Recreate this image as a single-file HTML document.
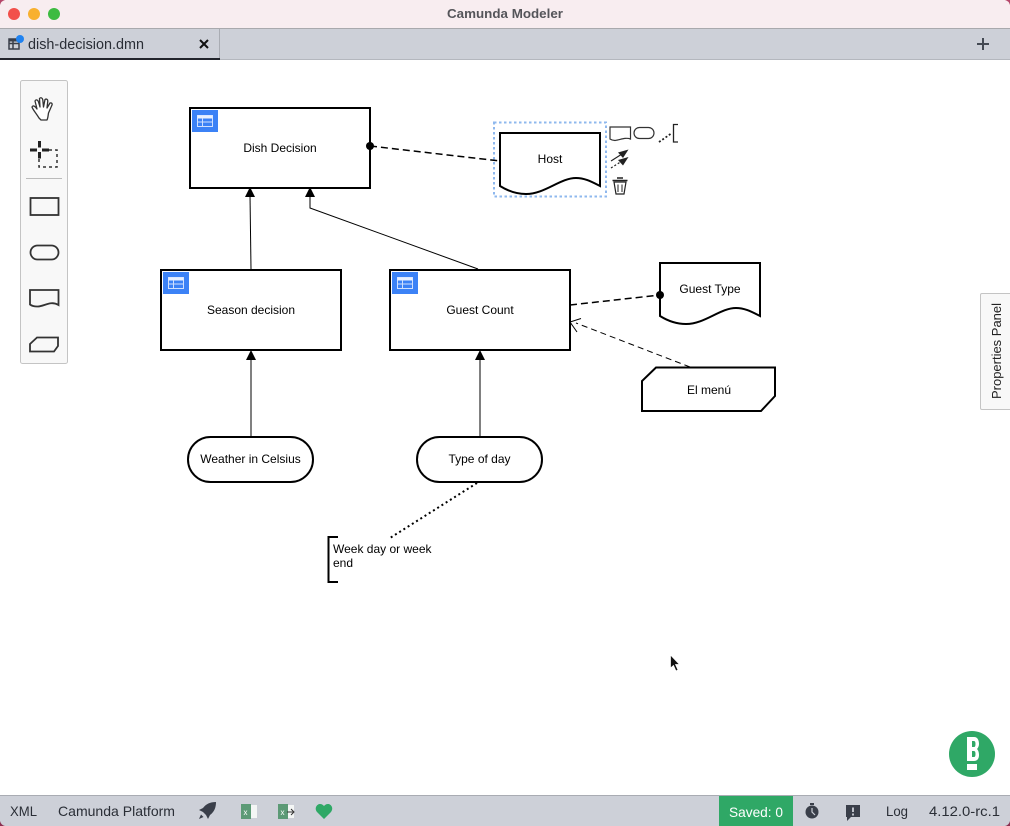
<!DOCTYPE html>
<html><head><meta charset="utf-8"><style>
html,body{margin:0;padding:0;background:#fff}
svg{display:block}
text{font-family:"Liberation Sans",sans-serif}
.d{font-size:12px;fill:#000;text-anchor:middle}
.u{font-size:14px;fill:#2a2e36}
.n{fill:#fff;stroke:#000;stroke-width:2}
.c{fill:none;stroke:#000;stroke-width:1}
.t{fill:none;stroke:#333;stroke-width:1.8}
</style></head><body>
<svg width="1010" height="826" viewBox="0 0 1010 826" xmlns="http://www.w3.org/2000/svg">
<rect width="1010" height="826" fill="#fff"/>
<!-- title bar -->
<rect width="1010" height="29" fill="#f8edf0"/>
<rect y="28" width="1010" height="1" fill="#a9a9ad"/>
<path d="M0 0H5Q1 1 0 5Z" fill="#b5476a"/>
<path d="M1010 0H1005Q1009 1 1010 5Z" fill="#b5476a"/>
<circle cx="14" cy="14" r="6" fill="#f2504b"/>
<circle cx="34" cy="14" r="6" fill="#f8b02f"/>
<circle cx="54" cy="14" r="6" fill="#3dbb41"/>
<text x="447" y="18" font-size="13" font-weight="700" fill="#55555a" textLength="116" lengthAdjust="spacingAndGlyphs">Camunda Modeler</text>
<!-- tab bar -->
<rect y="29" width="1010" height="31" fill="#cdd0d8"/>
<rect y="59" width="1010" height="1" fill="#b4b7be"/>
<rect y="58" width="220" height="2" fill="#22242c"/>
<rect x="219" y="29" width="1" height="29" fill="#a9acb3"/>
<g fill="none" stroke="#3a3f4a" stroke-width="1.5"><rect x="9" y="39" width="10" height="10"/><path d="M9 43.500H19M13 39V49"/></g>
<rect x="9" y="38.500" width="10" height="3" fill="#3a3f4a"/>
<circle cx="20" cy="39" r="4" fill="#1f82f0"/>
<text x="28" y="49" font-size="14.500" fill="#2a2e36" textLength="116" lengthAdjust="spacingAndGlyphs">dish-decision.dmn</text>
<path d="M200 40L208 48M208 40L200 48" stroke="#111" stroke-width="2"/>
<path d="M983 38V50M977 44H989" stroke="#444953" stroke-width="2"/>
<!-- palette -->
<rect x="20.500" y="80.500" width="47" height="283" rx="2" fill="#f8f8f8" stroke="#c4c4c4"/>
<path d="M39 118C36 113 33 110 32 107C33 105 35 106 37 109L35 101C36 99 38 100 38.500 102L40 107L39.500 98.500C41 97 42.500 98 42.800 100L43.500 107L45 99.500C46.500 98.500 47.800 99.500 47.800 101L47 108L50 103C51.500 102.500 52.500 103.500 52 105L48.500 113C48 116 48 118 47 120H41Z" fill="#fff" stroke="#333" stroke-width="1.300" stroke-linejoin="round"/>
<path d="M39.500 141V147.500M39.500 152V158.500M30 150H37M42 150H49" stroke="#222" stroke-width="3"/>
<path d="M49 150H57V167H39V156" fill="none" stroke="#333" stroke-width="1.500" stroke-dasharray="3 3"/>
<rect x="26" y="178" width="36" height="1" fill="#bbb"/>
<rect x="30.500" y="198" width="28" height="17" class="t"/>
<rect x="30.500" y="245.500" width="28" height="14" rx="7" class="t"/>
<path d="M30 290H58.500V305C50 300 44 307 37 306.500C34 306.500 32 306 30 304.500Z" class="t"/>
<path d="M37 337.500H58V346L54 351.500H30V344Z" class="t"/>
<!-- connectors -->
<g class="c">
<path d="M251 269L250 195"/>
<path d="M478 269L310 208V195"/>
<path d="M251 436V358"/>
<path d="M480 436V358"/>
<path d="M690 367L576 323" stroke-dasharray="6 4"/>
<path d="M581 318.500L570 322L577 332"/>
</g>
<g fill="#000">
<path d="M250 187L255 197H245Z"/>
<path d="M310 187L315 197H305Z"/>
<path d="M251 350L256 360H246Z"/>
<path d="M480 350L485 360H475Z"/>
</g>
<path d="M370 146L500 161" fill="none" stroke="#000" stroke-width="1.500" stroke-dasharray="7 4"/>
<path d="M570 305L660 295" fill="none" stroke="#000" stroke-width="1.500" stroke-dasharray="7 4"/>
<path d="M477 483L390 538" fill="none" stroke="#000" stroke-width="2" stroke-dasharray="2 3"/>
<!-- decisions -->
<rect x="190" y="108" width="180" height="80" class="n"/>
<rect x="161" y="270" width="180" height="80" class="n"/>
<rect x="390" y="270" width="180" height="80" class="n"/>
<g>
<rect x="192" y="110" width="26" height="22" fill="#3c82f6"/>
<rect x="197.500" y="115.500" width="15" height="11" fill="none" stroke="#cfe0ff"/>
<rect x="197.500" y="115.500" width="15" height="3" fill="#e8f0ff"/>
<path d="M197.500 122H212.500M202.500 118V126.500" stroke="#cfe0ff"/>
</g>
<g transform="translate(-29 162)">
<rect x="192" y="110" width="26" height="22" fill="#3c82f6"/>
<rect x="197.500" y="115.500" width="15" height="11" fill="none" stroke="#cfe0ff"/>
<rect x="197.500" y="115.500" width="15" height="3" fill="#e8f0ff"/>
<path d="M197.500 122H212.500M202.500 118V126.500" stroke="#cfe0ff"/>
</g>
<g transform="translate(200 162)">
<rect x="192" y="110" width="26" height="22" fill="#3c82f6"/>
<rect x="197.500" y="115.500" width="15" height="11" fill="none" stroke="#cfe0ff"/>
<rect x="197.500" y="115.500" width="15" height="3" fill="#e8f0ff"/>
<path d="M197.500 122H212.500M202.500 118V126.500" stroke="#cfe0ff"/>
</g>
<text class="d" x="280" y="152">Dish Decision</text>
<text class="d" x="251" y="314">Season decision</text>
<text class="d" x="480" y="314">Guest Count</text>
<!-- input data -->
<rect x="188" y="437" width="125" height="45" rx="22.500" class="n"/>
<rect x="417" y="437" width="125" height="45" rx="22.500" class="n"/>
<text class="d" x="250.500" y="463">Weather in Celsius</text>
<text class="d" x="479.500" y="463">Type of day</text>
<!-- host -->
<rect x="494" y="122.500" width="112" height="74" fill="none" stroke="#8fb8ee" stroke-width="2" stroke-dasharray="2.500 2.500"/>
<path d="M500 133H600V186C592 182 585 178 576 178C560 178 545 194 526 194C517 194 508 191 500 186Z" class="n"/>
<text class="d" x="550" y="163">Host</text>
<!-- guest type -->
<path d="M660 263H760V316C752 312 745 308 736 308C720 308 705 324 686 324C677 324 668 321 660 316Z" class="n"/>
<text class="d" x="710" y="293">Guest Type</text>
<!-- el menu -->
<path d="M656 367.500H775V396L761 411H642V381Z" class="n"/>
<text class="d" x="709" y="394">El menú</text>
<!-- endpoint dots -->
<circle cx="370" cy="146" r="4" fill="#000"/>
<circle cx="660" cy="295" r="4" fill="#000"/>
<!-- annotation -->
<path d="M338 537H328.500V582H338" fill="none" stroke="#000" stroke-width="2"/>
<text x="333" y="553" font-size="12" fill="#000">Week day or week</text>
<text x="333" y="567" font-size="12" fill="#000">end</text>
<!-- context pad -->
<path d="M610 127H630.500V139C625 137 620 140 615 140.500C613 140.500 611.500 140 610 139Z" fill="#fff" stroke="#333" stroke-width="1.200"/>
<rect x="634" y="127.500" width="20" height="11" rx="5.500" fill="#fff" stroke="#333" stroke-width="1.200"/>
<path d="M659 142L672 133" stroke="#222" stroke-width="1.800" stroke-dasharray="2 2"/>
<path d="M678 124.500H673.500V142H678" fill="none" stroke="#222" stroke-width="1.300"/>
<path d="M611 161L622 154" stroke="#222" stroke-width="1.100"/>
<path d="M628.500 149.500L618 152.500L623 158Z" fill="#222"/>
<path d="M611 168L622 161" stroke="#222" stroke-width="1.200" stroke-dasharray="2 2"/>
<path d="M628.500 157L618 160L623 165.500Z" fill="#222"/>
<path d="M614 182L616 194H624L626 182Z" fill="#fff" stroke="#222" stroke-width="1.200"/>
<path d="M612.500 180.500H627.500M617 178H623" stroke="#222" stroke-width="1.400"/>
<path d="M618 184.500V192M622 184.500V192" stroke="#222" stroke-width="1"/>
<!-- properties tab -->
<path d="M1010 293.500H982a1.500 1.500 0 0 0-1.500 1.500V408a1.500 1.500 0 0 0 1.500 1.500H1010" fill="#f8f8f8" stroke="#c4c4c4"/>
<text transform="translate(1001 399) rotate(-90)" font-size="12.500" fill="#222" textLength="96" lengthAdjust="spacingAndGlyphs">Properties Panel</text>
<!-- cursor -->
<path d="M670.500 655V668L673.500 665.500L676 671L678 670L675.500 664.500H679.500Z" fill="#111" stroke="#fff" stroke-width=".7"/>
<!-- logo -->
<circle cx="972" cy="754" r="23" fill="#2fa866"/>
<path d="M967 737H974C978 737 979 741 979 744C979 746 978 748 977 749C978 750 979 752 979 755C979 759 977 761 974 761H967ZM972 741V747H974C975 747 975.500 746 975.500 744C975.500 742 975 741 974 741ZM972 751V757H974C975 757 975.500 756 975.500 754C975.500 752 975 751 974 751Z" fill="#fff" fill-rule="evenodd"/>
<rect x="967" y="764" width="10" height="6" fill="#fff"/>
<!-- status bar -->
<rect y="796" width="1010" height="30" fill="#cdd0d8"/>
<rect y="795" width="1010" height="1" fill="#a9acb3"/>
<path d="M0 826V821Q1 825 5 826Z" fill="#8a2f50"/>
<path d="M1010 826V821Q1009 825 1005 826Z" fill="#8a2f50"/>
<text class="u" x="10" y="816" textLength="27" lengthAdjust="spacingAndGlyphs">XML</text>
<text class="u" x="58" y="816" textLength="117" lengthAdjust="spacingAndGlyphs">Camunda Platform</text>
<path d="M216 802C210 802 206 804 203 808L199 810L203 812L206 815L208 819L210 815C214 812 216 808 216 802Z" fill="#3a3f4a"/>
<path d="M201 814.500L199 819L203.500 817Z" fill="#3a3f4a"/>
<rect x="241" y="804" width="10" height="15" fill="#5c9a76"/>
<rect x="251" y="805" width="6" height="13" fill="#f4f6f5"/>
<text x="243.500" y="815" font-size="8" fill="#fff">x</text>
<rect x="278" y="804" width="10" height="15" fill="#5c9a76"/>
<rect x="288" y="805" width="6" height="13" fill="#f4f6f5"/>
<text x="280.500" y="815" font-size="8" fill="#fff">x</text>
<path d="M287 812H294M291 809L294 812L291 815" fill="none" stroke="#333"/>
<path d="M324 819L317 812C314 808 317 804 320 804C322 804 323 805 324 806C325 805 326 804 328 804C331 804 334 808 331 812Z" fill="#2fa866"/>
<rect x="719" y="796" width="74" height="30" fill="#2fa866"/>
<text x="729" y="817" font-size="14" fill="#fff" textLength="54" lengthAdjust="spacingAndGlyphs">Saved: 0</text>
<circle cx="812" cy="812" r="6.500" fill="#3a3f4a"/>
<rect x="810" y="803" width="4" height="2" fill="#3a3f4a"/>
<path d="M812 808V812L815 815" stroke="#cdd0d8" stroke-width="1.200" fill="none"/>
<path d="M846 805H860V817H851L847 821V817H846Z" fill="#3a3f4a"/>
<path d="M853 807.500V812M853 813.500V815.500" stroke="#cdd0d8" stroke-width="1.800"/>
<text class="u" x="886" y="816" textLength="22" lengthAdjust="spacingAndGlyphs">Log</text>
<text class="u" x="929" y="816" textLength="71" lengthAdjust="spacingAndGlyphs">4.12.0-rc.1</text>
</svg>
</body></html>
